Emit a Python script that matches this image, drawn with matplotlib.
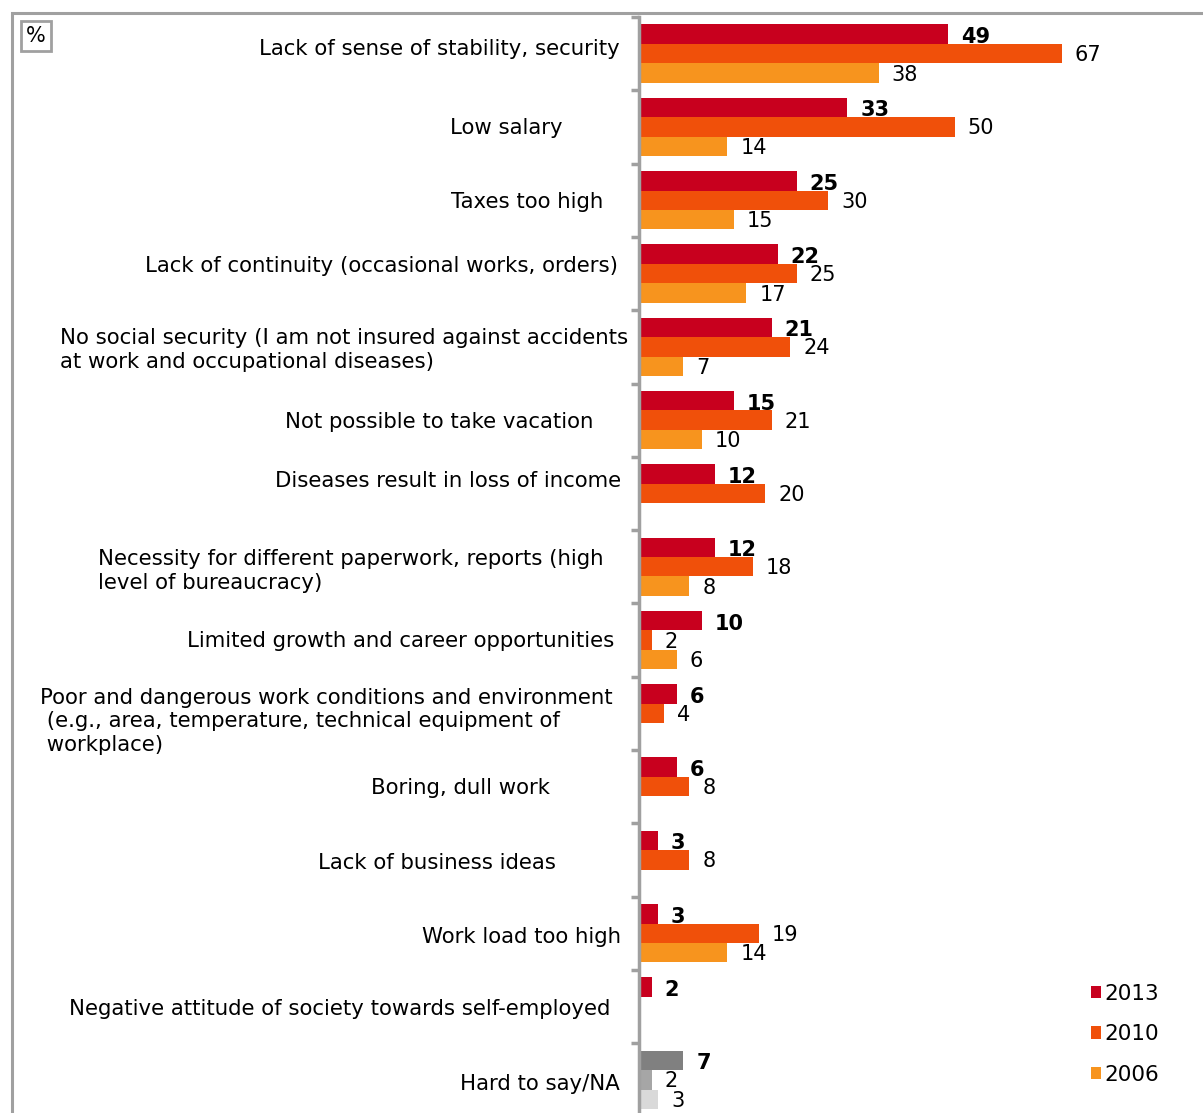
import numpy as np
import matplotlib
matplotlib.use("Agg")
import matplotlib.pyplot as plt
from matplotlib.patches import Rectangle, Patch

categories = [
    "Lack of sense of stability, security",
    "Low salary",
    "Taxes too high",
    "Lack of continuity (occasional works, orders)",
    "No social security (I am not insured against accidents\nat work and occupational diseases)",
    "Not possible to take vacation",
    "Diseases result in loss of income",
    "Necessity for different paperwork, reports (high\nlevel of bureaucracy)",
    "Limited growth and career opportunities",
    "Poor and dangerous work conditions and environment\n (e.g., area, temperature, technical equipment of\n workplace)",
    "Boring, dull work",
    "Lack of business ideas",
    "Work load too high",
    "Negative attitude of society towards self-employed",
    "Hard to say/NA",
]
series_names = ["2013", "2010", "2006"]
v2013 = [49, 33, 25, 22, 21, 15, 12, 12, 10, 6, 6, 3, 3, 2, 7]
v2010 = [67, 50, 30, 25, 24, 21, 20, 18, 2, 4, 8, 8, 19, np.nan, 2]
v2006 = [38, 14, 15, 17, 7, 10, np.nan, 8, 6, np.nan, np.nan, np.nan, 14, np.nan, 3]

colors = ["#C8001E", "#F0500A", "#F7941E"]
grey_colors = ["#808080", "#A6A6A6", "#D9D9D9"]

# label layout: (anchor x pixel, ha, y offset pixel (down positive))
label_layout = [
    (620, "right", -4.5), (563, "right", 1), (603, "right", 2), (618, "right", -8),
    (60, "left", 3), (593, "right", 2), (621, "right", -12), (98, "left", 4),
    (614, "right", 1), (40, "left", 8), (550, "right", 1), (556, "right", 3),
    (621, "right", 3.5), (610, "right", 2.5), (620, "right", 4),
]

LABEL_FS = 15.3
VALUE_FS = 15

W, H = 1203, 1113
fig = plt.figure(figsize=(W / 100, H / 100), dpi=100)
x0_px, y_top_px, y_bot_px = 639, 17, 1116.5
ax = fig.add_axes([x0_px / W, 1 - y_bot_px / H, (W - x0_px) / W, (y_bot_px - y_top_px) / H])
px_per_unit = 6.31
ax.set_xlim(0, (W - x0_px) / px_per_unit)
n = len(categories)
ax.set_ylim(n - 0.5, -0.5)

y = np.arange(n)
bh = 0.266
series = [v2013, v2010, v2006]
for k, vals in enumerate(series):
    vals = np.array(vals, dtype=float)
    cols = [colors[k]] * (n - 1) + [grey_colors[k]]
    ypos = y + (k - 1) * bh
    mask = ~np.isnan(vals)
    ax.barh(ypos[mask], vals[mask], height=bh, color=np.array(cols)[mask], edgecolor="none")
    for yy, vv in zip(ypos[mask], vals[mask]):
        ax.annotate(f"{int(vv)}", xy=(vv, yy), xytext=(13, -3 if k == 0 else -1.5),
                    textcoords="offset pixels",
                    ha="left", va="center", fontsize=VALUE_FS,
                    fontweight="bold" if k == 0 else "normal", color="black")

# category labels
for i, (lab, (xp, ha, dy)) in enumerate(zip(categories, label_layout)):
    ax.annotate(lab, xy=(0, i), xytext=(xp - x0_px, -dy), textcoords="offset pixels",
                ha=ha, va="center", fontsize=LABEL_FS, multialignment="left",
                linespacing=1.22, annotation_clip=False)

# axis styling
for s in ["top", "right", "bottom"]:
    ax.spines[s].set_visible(False)
ax.spines["left"].set_color("#A0A0A0")
ax.spines["left"].set_linewidth(2.5)
ax.set_xticks([])
ax.set_yticks([])
ax.set_yticks(np.arange(-0.5, n, 1.0), minor=True)
ax.tick_params(axis="y", which="minor", direction="out", length=6, width=2.5, color="#A0A0A0")
ax.tick_params(axis="y", which="major", length=0)

# outer frame
fig.patches.append(Rectangle((12 / W, -0.05), 1.1, 1 - 13 / H + 0.05, transform=fig.transFigure,
                             fill=False, edgecolor="#A0A0A0", linewidth=2.2))
# % box
fig.text(36 / W, 1 - 36 / H, "%", ha="center", va="center", fontsize=15,
         bbox=dict(boxstyle="square,pad=0.25", facecolor="white", edgecolor="#A0A0A0", linewidth=2))

# legend
handles = [Patch(facecolor=c, edgecolor="none") for c in colors]
fig.legend(handles, series_names, loc="upper left", bbox_to_anchor=(1082 / W, 1 - 975 / H),
           frameon=False, fontsize=15.5, handlelength=0.5, handleheight=0.5,
           handletextpad=0.15, labelspacing=0.95, borderaxespad=0)

fig.savefig("out.png", dpi=100)
